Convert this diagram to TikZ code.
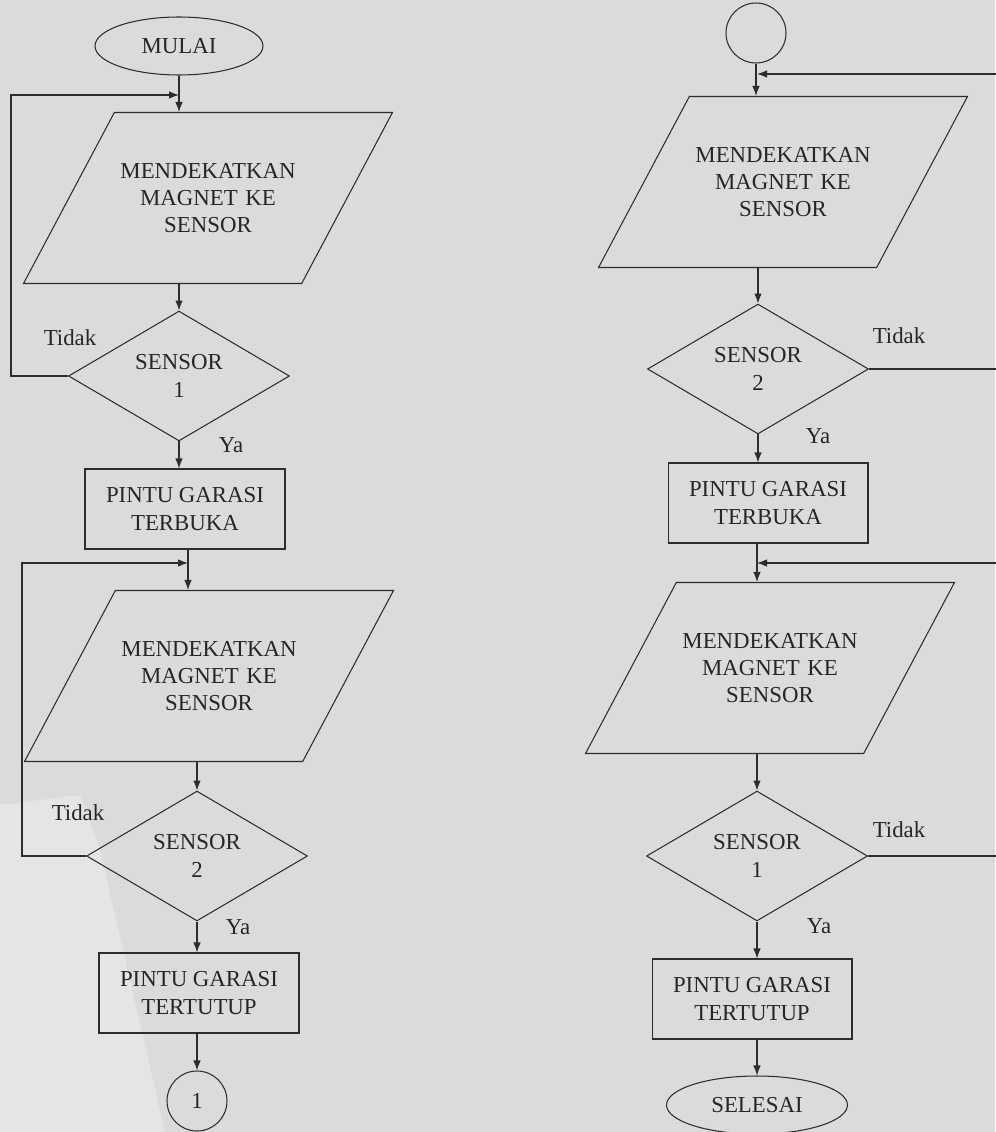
\documentclass[tikz,border=0pt]{standalone}
\usepackage{fontspec}
\setmainfont{Liberation Serif}
\usepackage{tikz}
\usetikzlibrary{arrows.meta,shapes.geometric}
\usepackage{xcolor}
\definecolor{pagegray}{RGB}{219,219,219}
\definecolor{lightpage}{RGB}{229,229,229}
\definecolor{inkgray}{RGB}{45,45,45}
\tikzstyle{terminal} = [ellipse, draw=inkgray, line width=0.6pt, minimum width=3.36cm, minimum height=1.16cm, inner sep=0pt]
\tikzstyle{connector} = [circle, draw=inkgray, line width=0.6pt, minimum size=1.2cm, inner sep=0pt]
\tikzstyle{inputbox} = [trapezium, trapezium left angle=62, trapezium right angle=118, trapezium stretches body, draw=inkgray, line width=0.6pt, minimum height=3.42cm, minimum width=7.38cm, text width=3.6cm, align=center, inner xsep=2pt, inner ysep=1.01cm]
\tikzstyle{decision} = [diamond, draw=inkgray, line width=0.6pt, minimum width=4.42cm, minimum height=2.42cm, align=center, inner sep=0pt]
\tikzstyle{process} = [rectangle, draw=inkgray, line width=0.6pt, minimum width=4cm, minimum height=1.6cm, align=center]
\tikzstyle{arrow} = [line width=0.6pt, -{Latex[length=2mm,width=1.5mm]}, color=inkgray]

\begin{document}
\begin{tikzpicture}[x=0.02cm, y=-0.02cm, font=\fontsize{13}{15.5}\selectfont, text=black!85]
% Page background
\fill[pagegray] (0,0) rectangle (995,1132);
\fill[lightpage] (0,805) -- (80,795) -- (100,850) -- (165,1132) -- (0,1132) -- cycle;
\useasboundingbox (0,0) rectangle (995,1132);

% Left flow
\node[terminal] (mulai) at (179,46) {MULAI};
\node[inputbox] (magnetA) at (208,198) {MENDEKATKAN\\MAGNET KE\\SENSOR};
\node[decision] (sensorA) at (179,376) {SENSOR\\1};
\node[process] (bukaA) at (185,509) {PINTU GARASI\\TERBUKA};
\node[inputbox] (magnetB) at (209,676) {MENDEKATKAN\\MAGNET KE\\SENSOR};
\node[decision] (sensorB) at (197,856) {SENSOR\\2};
\node[process] (tutupA) at (199,993) {PINTU GARASI\\TERTUTUP};
\node[connector] (satuA) at (197,1101) {1};

% Left labels
\node (tidakA) at (70,338) {Tidak};
\node (yaA) at (231,445) {Ya};
\node (tidakB) at (78,813) {Tidak};
\node (yaB) at (238,927) {Ya};

% Right flow
\node[connector] (satuB) at (756,33) {};
\node[inputbox] (magnetC) at (783,182) {MENDEKATKAN\\MAGNET KE\\SENSOR};
\node[decision] (sensorC) at (758,369) {SENSOR\\2};
\node[process] (bukaB) at (768,503) {PINTU GARASI\\TERBUKA};
\node[inputbox] (magnetD) at (770,668) {MENDEKATKAN\\MAGNET KE\\SENSOR};
\node[decision] (sensorD) at (757,856) {SENSOR\\1};
\node[process] (tutupB) at (752,999) {PINTU GARASI\\TERTUTUP};
\node[terminal, minimum width=3.62cm] (selesai) at (757,1105) {SELESAI};

% Right labels
\node (tidakC) at (899,336) {Tidak};
\node (yaC) at (818,436) {Ya};
\node (tidakD) at (899,830) {Tidak};
\node (yaD) at (819,926) {Ya};

% Loop corners
\coordinate (joinA) at (179,95);
\coordinate (joinB) at (188,563);
\coordinate (joinC) at (757,74);
\coordinate (joinD) at (757,563);
\coordinate (edgeA) at (11,0);
\coordinate (edgeB) at (22,0);
\coordinate (edgeR) at (1002,0);

% Left arrows
\draw[arrow] (mulai.south) -- (mulai.south |- magnetA.north);
\draw[arrow] (sensorA.north |- magnetA.south) -- (sensorA.north);
\draw[arrow] (sensorA.south) -- (sensorA.south |- bukaA.north);
\draw[arrow] (joinB |- bukaA.south) -- (joinB |- magnetB.north);
\draw[arrow] (sensorB.north |- magnetB.south) -- (sensorB.north);
\draw[arrow] (sensorB.south) -- (sensorB.south |- tutupA.north);
\draw[arrow] (satuA.north |- tutupA.south) -- (satuA.north);
\draw[arrow] (sensorA.west) -- (sensorA.west -| edgeA) -- (edgeA |- joinA) -- (joinA);
\draw[arrow] (sensorB.west) -- (sensorB.west -| edgeB) -- (edgeB |- joinB) -- (joinB);

% Right arrows
\draw[arrow] (satuB.south) -- (satuB.south |- magnetC.north);
\draw[arrow] (sensorC.north |- magnetC.south) -- (sensorC.north);
\draw[arrow] (sensorC.south) -- (sensorC.south |- bukaB.north);
\draw[arrow] (joinD |- bukaB.south) -- (joinD |- magnetD.north);
\draw[arrow] (sensorD.north |- magnetD.south) -- (sensorD.north);
\draw[arrow] (sensorD.south) -- (sensorD.south |- tutupB.north);
\draw[arrow] (selesai.north |- tutupB.south) -- (selesai.north);
\draw[arrow] (sensorC.east) -- (sensorC.east -| edgeR) -- (edgeR |- joinC) -- (joinC);
\draw[arrow] (sensorD.east) -- (sensorD.east -| edgeR) -- (edgeR |- joinD) -- (joinD);
\end{tikzpicture}
\end{document}
